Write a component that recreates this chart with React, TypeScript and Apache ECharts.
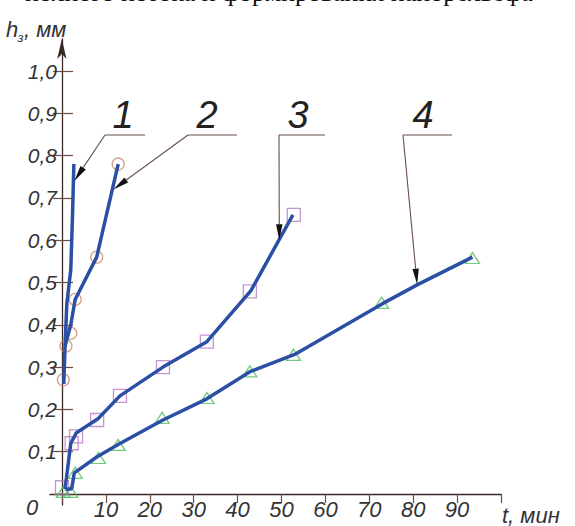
import React, { useEffect, useRef } from 'react';
import * as echarts from 'echarts';

// ---- data ----
const xMin = 0;
const xMax = 100;
const xStep = 10;
const yMin = 0;
const yMax = 1.0;
const yStep = 0.1;

// curve 1 (circles)
const s1Line = [[0.4, 0.26], [0.7, 0.35], [1.1, 0.45], [2.0, 0.53], [2.4, 0.66], [2.7, 0.78]];
const s1Marks = [[0.3, 0.27], [0.9, 0.35]];
// curve 2 (circles)
const s2Line = [[0.7, 0.35], [2.0, 0.40], [3.0, 0.46], [7.9, 0.56], [12.8, 0.78]];
const s2Marks = [[2.0, 0.38], [3.0, 0.46], [7.9, 0.56], [12.8, 0.78]];
// curve 3 (squares)
const s3Line = [[0.7, 0.012], [2.0, 0.12], [3.3, 0.145], [8.2, 0.178], [13.2, 0.232], [23, 0.30], [33, 0.36], [43, 0.48], [52.6, 0.66]];
const s3Marks = [[0, 0.016], [2.2, 0.12], [3.2, 0.136], [8.0, 0.175], [13.2, 0.232], [23, 0.30], [33, 0.36], [42.8, 0.479], [52.8, 0.66]];
// curve 4 (triangles)
const s4Line = [[0.8, 0.012], [2.2, 0.012], [2.8, 0.05], [8, 0.088], [13, 0.118], [23, 0.175], [33, 0.225], [43, 0.29], [53, 0.33], [73, 0.45], [81, 0.495], [93.5, 0.56]];
const s4Marks = [[0.3, 0.005], [2.0, 0.005], [3, 0.05], [8.3, 0.085], [12.8, 0.116], [22.8, 0.18], [33, 0.227], [42.8, 0.29], [52.7, 0.329], [72.8, 0.452], [93.5, 0.558]];

// leader annotations
const leaderLabels = ['1', '2', '3', '4'];
const leaderTargets = [[2.8, 0.74], [11.7, 0.72], [49.5, 0.6], [80.9, 0.495]];

const FONT = '"Liberation Sans Narrow", "Liberation Sans", sans-serif';
const AXIS_COLOR = '#3a2a26';
const TICK_COLOR = '#6e4c40';
const TEXT_COLOR = '#333333';
const LINE_COLOR = '#2c4fa6';

export default function App() {
  const ref = useRef<HTMLDivElement>(null);
  useEffect(() => {
    document.body.style.margin = '0';
    const chart = echarts.init(ref.current!, null, { renderer: 'svg' });

    const lineSeries = (data: number[][]) => ({
      type: 'line',
      data,
      symbol: 'none',
      z: 5,
      lineStyle: { color: LINE_COLOR, width: 3.5 },
      xAxisIndex: 0,
      yAxisIndex: 0,
    });
    const markSeries = (data: number[][], symbol: string, size: any, color: string) => ({
      type: 'scatter',
      data,
      symbol,
      symbolSize: size,
      z: 3,
      itemStyle: { color: 'transparent', borderColor: color, borderWidth: 1.3 },
      xAxisIndex: 0,
      yAxisIndex: 0,
    });

    const labelStyle = {
      fontFamily: FONT,
      fontStyle: 'italic',
      color: TEXT_COLOR,
    };
    const tickLine = { color: TICK_COLOR, width: 1.2 };

    chart.setOption({
      animation: false,
      grid: [
        // data grid: 0..100 x 0..1.0
        { left: 62, right: 74, top: 71, bottom: 32, containLabel: false },
        // axis-line grid: lines run a little past the origin, y axis up to the arrow
        { left: 50, right: 74, top: 39, bottom: 21, containLabel: false },
      ],
      xAxis: [
        {
          gridIndex: 0,
          type: 'value',
          min: xMin,
          max: xMax,
          interval: xStep,
          axisLine: { show: false },
          axisTick: { show: true, length: 9, lineStyle: tickLine },
          axisLabel: {
            show: true,
            margin: 4,
            fontSize: 22,
            ...labelStyle,
            formatter: (v: number) => (v === xMin || v === xMax ? '' : String(v)),
          },
          splitLine: { show: false },
        },
        {
          gridIndex: 1,
          type: 'value',
          min: -2.7,
          max: xMax,
          axisLine: { show: true, onZero: true, lineStyle: { color: AXIS_COLOR, width: 1.3 } },
          axisTick: { show: false },
          axisLabel: { show: false },
          splitLine: { show: false },
        },
      ],
      yAxis: [
        {
          gridIndex: 0,
          type: 'value',
          min: yMin,
          max: yMax,
          interval: yStep,
          position: 'left',
          axisLine: { show: false },
          axisTick: { show: true, length: 9, lineStyle: tickLine },
          axisLabel: {
            show: true,
            margin: 5,
            fontSize: 21,
            ...labelStyle,
            formatter: (v: number) => (v === yMin ? '' : v.toFixed(1).replace('.', ',')),
          },
          splitLine: { show: false },
        },
        {
          gridIndex: 0,
          type: 'value',
          min: yMin,
          max: yMax,
          interval: yStep,
          position: 'left',
          axisLine: { show: false },
          axisTick: { show: true, inside: true, length: 11, lineStyle: tickLine },
          axisLabel: { show: false },
          splitLine: { show: false },
        },
        {
          gridIndex: 1,
          type: 'value',
          min: -0.026,
          max: 1.076,
          position: 'left',
          axisLine: {
            show: true,
            onZero: true,
            symbol: ['none', 'arrow'],
            symbolSize: [7, 20],
            lineStyle: { color: AXIS_COLOR, width: 1.3 },
          },
          axisTick: { show: false },
          axisLabel: { show: false },
          splitLine: { show: false },
        },
      ],
      series: [
        markSeries(s1Marks, 'circle', 12, '#c98a6c'),
        markSeries(s2Marks, 'circle', 12, '#c98a6c'),
        markSeries(s3Marks, 'rect', 13, '#b67ac6'),
        markSeries(s4Marks, 'triangle', [14, 11], '#4fbd5c'),
        lineSeries(s1Line),
        lineSeries(s2Line),
        lineSeries(s3Line),
        lineSeries(s4Line),
      ],
    });

    // leader lines with arrowheads, tips located through the axes
    const shelfStart = [105, 188, 279, 403];
    const shelfEnd = [145, 237, 325, 452];
    const shelfY = 135;
    const labelX = [123, 207, 298, 423];
    const labelY = 115;
    const graphics: any[] = [];
    leaderTargets.forEach((t, i) => {
      const tip = chart.convertToPixel({ gridIndex: 0 }, t) as number[];
      const sx = shelfStart[i];
      const sy = shelfY;
      const dx = tip[0] - sx;
      const dy = tip[1] - sy;
      const len = Math.sqrt(dx * dx + dy * dy);
      const ux = dx / len;
      const uy = dy / len;
      const bx = tip[0] - ux * 16;
      const by = tip[1] - uy * 16;
      const px = -uy * 3.2;
      const py = ux * 3.2;
      graphics.push({
        type: 'line',
        shape: { x1: sx, y1: sy, x2: shelfEnd[i], y2: sy },
        style: { stroke: '#6a5048', lineWidth: 1.1 },
        z: 10,
      });
      graphics.push({
        type: 'line',
        shape: { x1: sx, y1: sy, x2: bx, y2: by },
        style: { stroke: '#6a5048', lineWidth: 1.1 },
        z: 10,
      });
      graphics.push({
        type: 'polygon',
        shape: { points: [[tip[0], tip[1]], [bx + px, by + py], [bx - px, by - py]] },
        style: { fill: '#111' },
        z: 10,
      });
      graphics.push({
        type: 'text',
        x: labelX[i],
        y: labelY,
        style: {
          text: leaderLabels[i],
          fontSize: 38,
          fontFamily: FONT,
          fontStyle: 'italic',
          fill: '#222',
          align: 'center',
          verticalAlign: 'middle',
        },
        z: 10,
      });
    });

    // axis names and origin label
    const nameStyle = { fontFamily: FONT, fontStyle: 'italic', fill: TEXT_COLOR };
    graphics.push(
      { type: 'text', x: 6, y: 29, style: { text: 'h', fontSize: 22, ...nameStyle, align: 'left', verticalAlign: 'middle' } },
      { type: 'text', x: 17.5, y: 37, style: { text: 'з', fontSize: 13, ...nameStyle, align: 'left', verticalAlign: 'middle' } },
      { type: 'text', x: 24, y: 29, style: { text: ', мм', fontSize: 22, ...nameStyle, align: 'left', verticalAlign: 'middle' } },
      { type: 'text', x: 502, y: 515, style: { text: 't, мин', fontSize: 22, ...nameStyle, align: 'left', verticalAlign: 'middle' } },
      { type: 'text', x: 32, y: 507, style: { text: '0', fontSize: 22, ...nameStyle, align: 'center', verticalAlign: 'middle' } },
      {
        type: 'text',
        x: 25,
        y: 5,
        style: {
          text: 'полного потока и формирования нанорельефа',
          fontSize: 26,
          fontFamily: '"Liberation Serif", "DejaVu Serif", serif',
          fill: '#111',
          align: 'left',
          verticalAlign: 'bottom',
        },
      }
    );

    chart.setOption({ graphic: graphics });

    return () => {
      chart.dispose();
    };
  }, []);
  return <div ref={ref} style={{ width: 575, height: 526 }} />;
}
